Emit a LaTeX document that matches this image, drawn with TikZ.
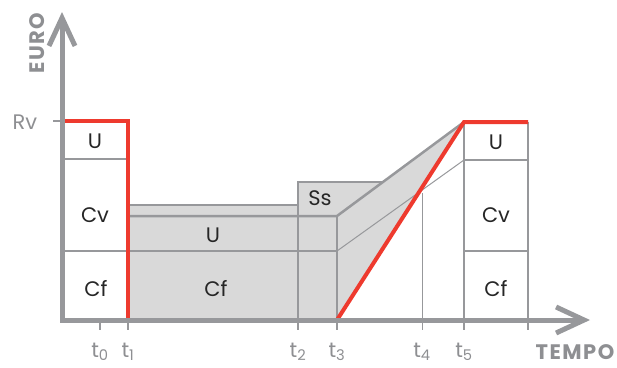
\documentclass[tikz,border=0pt]{standalone}
\usepackage{fontspec}
\setmainfont{Poppins}
\usetikzlibrary{arrows.meta}
\definecolor{axisgray}{HTML}{97989B}
\definecolor{fillgray}{HTML}{D9D9D9}
\definecolor{linered}{HTML}{EE3A2E}
\definecolor{textgray}{HTML}{8E8F92}
\begin{document}
\begin{tikzpicture}[x=1pt,y=-1pt,
  axis/.style={axisgray,line width=5pt},
  frame/.style={axisgray,line width=2.5pt},
  hair/.style={axisgray,line width=1pt},
  profit/.style={linered,line width=4pt},
  lab/.style={font=\fontsize{21}{24}\selectfont,text=black!85},
  ticklab/.style={font=\fontsize{21}{24}\selectfont,text=textgray,anchor=base},
  axlab/.style={font=\fontsize{21}{23}\selectfont\bfseries\addfontfeatures{LetterSpace=7},text=textgray}]
\tikzstyle{every node}+=[inner sep=0pt]
\useasboundingbox (0,0) rectangle (617,367);
\fill [fillgray] (128,320) -- (128,205) -- (298,205) -- (298,182) -- (383,182) -- (464,122) -- (337,320) -- cycle;
\draw [hair] (337,251) -- (464,160);
\draw [hair] (422,193) -- (422,330);
\draw [frame] (53,121) -- (62,121);
\draw [frame] (62,159) -- (128,159);
\draw [frame] (62,251) -- (128,251);
\draw [frame] (128,205) -- (298,205) -- (298,182) -- (383,182);
\draw [frame] (128,216) -- (337,216) -- (464,122);
\draw [frame] (128,251) -- (337,251);
\draw [frame] (298,205) -- (298,330);
\draw [frame] (337,216) -- (337,330);
\draw [frame] (100,320) -- (100,330);
\draw [frame] (128,320) -- (128,330);
\draw [frame] (464,122) -- (464,330);
\draw [frame] (528,122) -- (528,330);
\draw [frame] (464,160) -- (528,160);
\draw [frame] (464,251) -- (528,251);
\draw [profit] (62,121) -- (128,121) -- (128,320);
\draw [profit] (337,320) -- (464,122) -- (528,122);
\draw [axis,{Straight Barb[length=28pt,width=26pt]}-{Straight Barb[length=28pt,width=26pt]}] (62,12) -- (62,320) -- (590,320);
\node [ticklab,anchor=center] (rv) at (25,122) {Rv};
\node [lab] (ul) at (95,141) {U};
\node [lab] (cvl) at (95,215) {Cv};
\node [lab] (cfl) at (96,289) {Cf};
\node [lab] (um) at (213,235) {U};
\node [lab] (cfm) at (216,289) {Cf};
\node [lab] (ss) at (320,198) {Ss};
\node [lab] (ur) at (496,142) {U};
\node [lab] (cvr) at (496,215) {Cv};
\node [lab] (cfr) at (496,289) {Cf};
\node [ticklab] (t0) at (100,357) {t\textsubscript{0}};
\node [ticklab] (t1) at (128,357) {t\textsubscript{1}};
\node [ticklab] (t2) at (298,357) {t\textsubscript{2}};
\node [ticklab] (t3) at (337,357) {t\textsubscript{3}};
\node [ticklab] (t4) at (422,357) {t\textsubscript{4}};
\node [ticklab] (t5) at (464,357) {t\textsubscript{5}};
\node [axlab] (tempo) at (575,352) {TEMPO};
\node [axlab,rotate=90] (euro) at (37,43) {EURO};
\end{tikzpicture}
\end{document}
